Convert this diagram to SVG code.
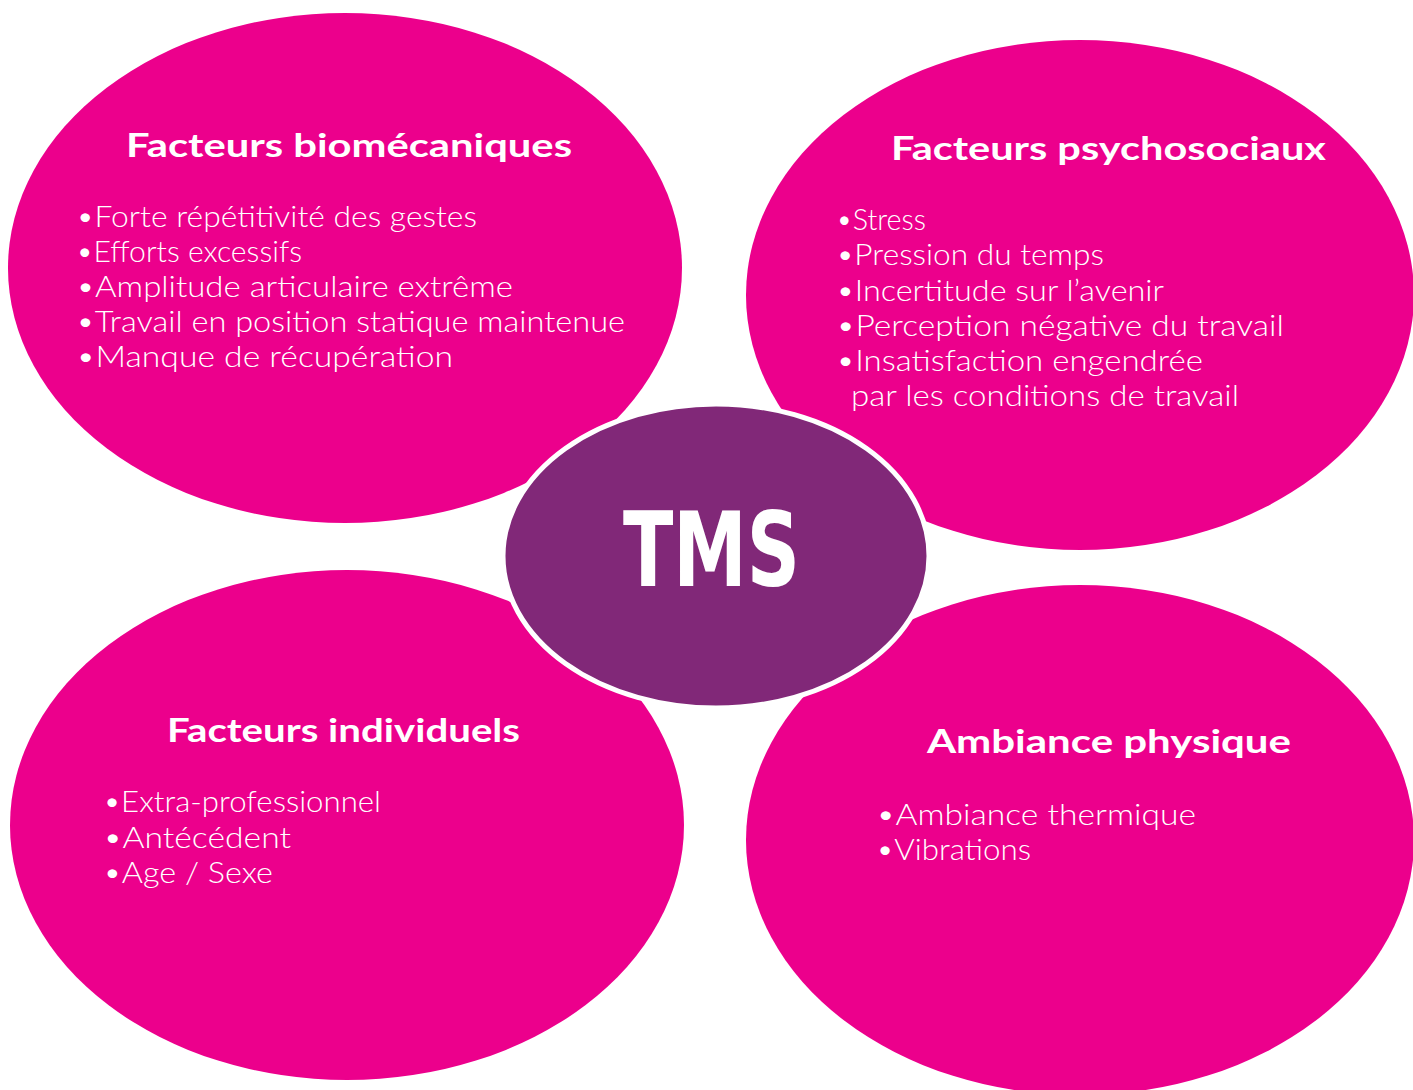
<svg xmlns="http://www.w3.org/2000/svg" width="1413" height="1090" viewBox="0 0 1413 1090">
  <style>
    .petal { fill: #EC008C; }
    .core { fill: #812878; stroke: #FFFFFF; stroke-width: 5; }
    .hdr { font-family: "Lato", "Liberation Sans", sans-serif; font-weight: bold; font-size: 32px; fill: #FFFFFF; }
    .item { font-family: "Lato", "Liberation Sans", sans-serif; font-weight: 300; font-size: 29px; fill: #FFFFFF; }
    .tms { font-family: "DejaVu Sans", "Liberation Sans", sans-serif; font-weight: bold; font-stretch: condensed; font-size: 104px; fill: #FFFFFF; }
  </style>
  <rect width="1413" height="1090" fill="#FFFFFF"/>
  <g id="connectors"></g>
  <g id="node-biomecaniques">
    <ellipse class="petal" cx="345" cy="268" rx="337" ry="255"/>
    <text class="hdr" x="126" y="157" textLength="446" lengthAdjust="spacingAndGlyphs">Facteurs biomécaniques</text>
    <text class="item" x="76" y="227" textLength="401" lengthAdjust="spacingAndGlyphs">•Forte répétitivité des gestes</text>
    <text class="item" x="76" y="262" textLength="226" lengthAdjust="spacingAndGlyphs">•Efforts excessifs</text>
    <text class="item" x="76" y="297" textLength="437" lengthAdjust="spacingAndGlyphs">•Amplitude articulaire extrême</text>
    <text class="item" x="76" y="332" textLength="549" lengthAdjust="spacingAndGlyphs">•Travail en position statique maintenue</text>
    <text class="item" x="76" y="367" textLength="377" lengthAdjust="spacingAndGlyphs">•Manque de récupération</text>
  </g>
  <g id="node-psychosociaux">
    <ellipse class="petal" cx="1080" cy="295" rx="334" ry="255"/>
    <text class="hdr" x="891" y="160" textLength="435" lengthAdjust="spacingAndGlyphs">Facteurs psychosociaux</text>
    <text class="item" x="836" y="230" textLength="90" lengthAdjust="spacingAndGlyphs">•Stress</text>
    <text class="item" x="836" y="265" textLength="268" lengthAdjust="spacingAndGlyphs">•Pression du temps</text>
    <text class="item" x="836" y="301" textLength="328" lengthAdjust="spacingAndGlyphs">•Incertitude sur l’avenir</text>
    <text class="item" x="836" y="336" textLength="448" lengthAdjust="spacingAndGlyphs">•Perception négative du travail</text>
    <text class="item" x="836" y="371" textLength="367" lengthAdjust="spacingAndGlyphs">•Insatisfaction engendrée</text>
    <text class="item" x="851" y="406" textLength="388" lengthAdjust="spacingAndGlyphs">par les conditions de travail</text>
  </g>
  <g id="node-individuels">
    <ellipse class="petal" cx="347" cy="825" rx="337" ry="255"/>
    <text class="hdr" x="167" y="742" textLength="353" lengthAdjust="spacingAndGlyphs">Facteurs individuels</text>
    <text class="item" x="103" y="812" textLength="278" lengthAdjust="spacingAndGlyphs">•Extra-professionnel</text>
    <text class="item" x="103" y="848" textLength="188" lengthAdjust="spacingAndGlyphs">•Antécédent</text>
    <text class="item" x="103" y="883" textLength="170" lengthAdjust="spacingAndGlyphs">•Age / Sexe</text>
  </g>
  <g id="node-ambiance">
    <ellipse class="petal" cx="1080" cy="840" rx="334" ry="255"/>
    <text class="hdr" x="927" y="753" textLength="364" lengthAdjust="spacingAndGlyphs">Ambiance physique</text>
    <text class="item" x="876" y="825" textLength="320" lengthAdjust="spacingAndGlyphs">•Ambiance thermique</text>
    <text class="item" x="876" y="860" textLength="155" lengthAdjust="spacingAndGlyphs">•Vibrations</text>
  </g>
  <g id="node-tms">
    <ellipse class="core" cx="716" cy="556" rx="213" ry="152"/>
    <text class="tms" x="623" y="586" textLength="177" lengthAdjust="spacingAndGlyphs">TMS</text>
  </g>
</svg>
